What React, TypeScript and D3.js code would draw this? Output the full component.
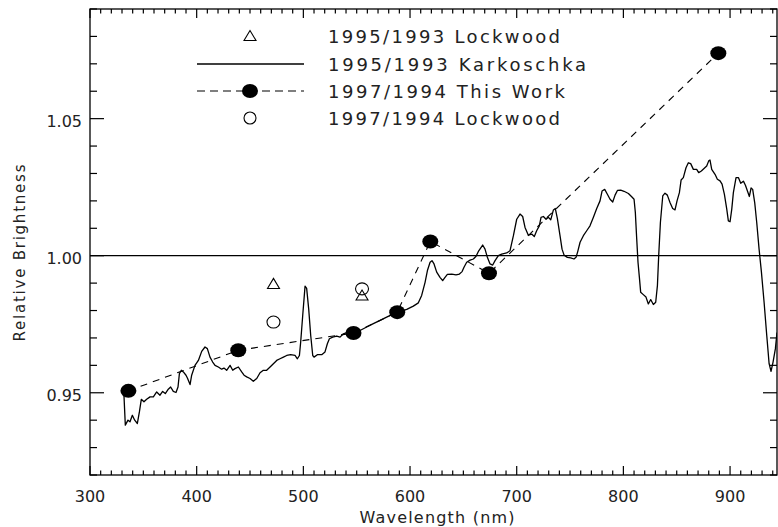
import React, { useRef, useEffect } from 'react';
import * as d3 from 'd3';

// Karkoschka 1995/1993 spectrum ratio
const karkWl = [
  331.5, 331.9, 333.1, 335.6, 337.5, 339.7, 341.9, 344.4, 346.3, 348.1, 350.6, 353.1, 356.3, 359.4,
  362.5, 365.6, 368.1, 370.6, 373.4, 375.6, 378.1, 380.6, 382.5, 383.8, 385.6, 387.5, 390.0, 391.3,
  393.8, 395.3, 398.4, 401.6, 404.7, 407.8, 410.0, 412.5, 415.0, 417.2, 420.3, 423.4, 425.6, 428.1,
  431.3, 433.8, 435.9, 439.1, 442.2, 444.4, 446.9, 450.0, 453.1, 456.3, 459.4, 462.5, 465.6, 468.8,
  471.9, 475.0, 478.1, 481.3, 484.4, 488.1, 492.2, 494.4, 496.3, 497.5, 499.4, 501.6, 503.1, 505.0,
  506.9, 508.8, 510.0, 513.1, 517.2, 520.3, 522.5, 524.4, 527.5, 531.3, 534.4, 537.5, 540.6, 546.9,
  553.1, 559.4, 565.6, 571.9, 578.1, 584.4, 590.6, 596.9, 603.1, 607.8, 610.9, 614.1, 616.3, 618.8,
  620.6, 622.5, 625.0, 628.1, 630.6, 632.8, 635.0, 639.1, 643.1, 646.3, 648.8, 650.6, 653.1, 656.3,
  659.4, 661.9, 664.4, 668.1, 670.3, 672.5, 675.0, 677.5, 679.7, 682.8, 685.9, 690.6, 693.7, 696.9,
  700.0, 703.1, 705.6, 707.8, 710.9, 714.0, 716.5, 718.7, 721.2, 722.8, 725.0, 727.5, 729.7, 731.9,
  734.4, 736.2, 738.1, 740.6, 742.5, 744.4, 747.5, 750.6, 753.7, 755.6, 757.2, 759.4, 762.5, 765.6,
  768.7, 771.9, 775.0, 778.1, 780.0, 782.5, 785.0, 787.5, 790.0, 792.2, 794.4, 797.5, 800.6, 804.7,
  807.8, 810.0, 811.2, 812.5, 813.7, 815.0, 816.2, 818.7, 821.2, 823.4, 825.6, 828.1, 830.3, 831.9,
  833.1, 834.7, 836.9, 839.0, 841.2, 843.7, 846.2, 848.4, 850.3, 852.5, 854.1, 856.2, 858.7, 860.9,
  863.1, 865.6, 868.7, 870.6, 873.1, 875.6, 878.1, 880.0, 881.2, 882.8, 885.9, 888.1, 890.6, 892.5,
  894.7, 896.9, 898.4, 900.0, 901.6, 903.1, 905.6, 907.8, 910.0, 912.5, 914.4, 916.2, 918.1, 919.7,
  921.2, 923.1, 925.0, 927.2, 929.4, 931.9, 934.4, 936.6, 938.4, 940.3, 942.5, 944.0
];
const karkVal = [
  0.9500, 0.9485, 0.9382, 0.9400, 0.9394, 0.9418, 0.9400, 0.9388, 0.9430, 0.9476, 0.9467, 0.9476, 0.9485, 0.9485,
  0.9503, 0.9491, 0.9505, 0.9497, 0.9513, 0.9521, 0.9505, 0.9501, 0.9521, 0.9570, 0.9582, 0.9576, 0.9564, 0.9554,
  0.9530, 0.9564, 0.9600, 0.9618, 0.9651, 0.9667, 0.9661, 0.9630, 0.9612, 0.9600, 0.9594, 0.9586, 0.9590, 0.9582,
  0.9600, 0.9582, 0.9588, 0.9594, 0.9576, 0.9564, 0.9558, 0.9552, 0.9542, 0.9552, 0.9573, 0.9582, 0.9582, 0.9594,
  0.9606, 0.9618, 0.9624, 0.9630, 0.9636, 0.9639, 0.9636, 0.9624, 0.9636, 0.9685, 0.9782, 0.9889, 0.9881, 0.9806,
  0.9709, 0.9636, 0.9630, 0.9639, 0.9639, 0.9649, 0.9679, 0.9697, 0.9703, 0.9707, 0.9703, 0.9715, 0.9719, 0.9721,
  0.9727, 0.9740, 0.9752, 0.9764, 0.9776, 0.9788, 0.9796, 0.9804, 0.9816, 0.9828, 0.9855, 0.9903, 0.9946, 0.9976,
  0.9982, 0.9970, 0.9940, 0.9921, 0.9909, 0.9921, 0.9932, 0.9933, 0.9930, 0.9933, 0.9942, 0.9958, 0.9976, 0.9984,
  0.9988, 0.9998, 1.0018, 1.0039, 1.0024, 0.9994, 0.9970, 0.9966, 0.9982, 1.0000, 1.0006, 1.0010, 1.0018, 1.0073,
  1.0133, 1.0152, 1.0143, 1.0103, 1.0075, 1.0079, 1.0070, 1.0091, 1.0109, 1.0140, 1.0143, 1.0133, 1.0140, 1.0131,
  1.0167, 1.0172, 1.0136, 1.0073, 1.0024, 1.0002, 0.9994, 0.9992, 0.9988, 0.9994, 1.0015, 1.0049, 1.0073, 1.0091,
  1.0109, 1.0140, 1.0172, 1.0200, 1.0236, 1.0242, 1.0224, 1.0206, 1.0196, 1.0221, 1.0238, 1.0239, 1.0235, 1.0227,
  1.0215, 1.0206, 1.0158, 1.0061, 0.9976, 0.9921, 0.9867, 0.9858, 0.9849, 0.9824, 0.9840, 0.9822, 0.9830, 0.9891,
  1.0000, 1.0121, 1.0218, 1.0228, 1.0221, 1.0194, 1.0172, 1.0167, 1.0200, 1.0230, 1.0276, 1.0285, 1.0321, 1.0339,
  1.0336, 1.0315, 1.0315, 1.0303, 1.0309, 1.0318, 1.0327, 1.0346, 1.0349, 1.0315, 1.0297, 1.0279, 1.0273, 1.0261,
  1.0224, 1.0170, 1.0127, 1.0124, 1.0170, 1.0230, 1.0285, 1.0285, 1.0264, 1.0272, 1.0257, 1.0237, 1.0216, 1.0247,
  1.0242, 1.0194, 1.0121, 1.0024, 0.9940, 0.9830, 0.9709, 0.9606, 0.9578, 0.9612, 0.9661, 0.9720
];

// 1997/1994 This Work
const thisWorkWl = [336, 439, 547, 588, 619, 674, 889];
const thisWorkVal = [0.9507, 0.9655, 0.9718, 0.9794, 1.0052, 0.9936, 1.0739];

// Lockwood ratios
const lock97Wl = [472, 555];
const lock97Val = [0.9758, 0.9879];
const lock95Wl = [472, 555];
const lock95Val = [0.9897, 0.9855];

const xMajor = [300, 400, 500, 600, 700, 800, 900];
const yMajor = [0.95, 1.00, 1.05];
const yLabels = ['0.95', '1.00', '1.05'];

const legendLabels = [
  '1995/1993 Lockwood',
  '1995/1993 Karkoschka',
  '1997/1994 This Work',
  '1997/1994 Lockwood'
];

const FONT = "'DejaVu Sans', sans-serif";

export default function App() {
  const ref = useRef<SVGSVGElement>(null);

  useEffect(() => {
    const left = 90, right = 777, top = 9, bottom = 475;
    const x = d3.scaleLinear().domain([300, 944]).range([left, right]);
    const y = d3.scaleLinear().domain([0.92, 1.09]).range([bottom, top]);

    const svg = d3.select(ref.current);
    svg.selectAll('*').remove();
    svg.append('rect').attr('width', 778).attr('height', 527).attr('fill', '#fff');

    svg.append('clipPath').attr('id', 'plotClip')
      .append('rect').attr('x', left).attr('y', top)
      .attr('width', right - left).attr('height', bottom - top);

    // ticks, IDL style on all four sides
    const xMinor = d3.range(300, 941, 10);
    const yMinor = d3.range(0.92, 1.0901, 0.01);
    const tk = svg.append('g').attr('stroke', '#000').attr('stroke-width', 1.2);
    xMinor.forEach(v => {
      const major = xMajor.some(m => Math.abs(m - v) < 0.01);
      const len = major ? 9 : 4.5;
      tk.append('line').attr('x1', x(v)).attr('x2', x(v)).attr('y1', bottom).attr('y2', bottom - len);
      tk.append('line').attr('x1', x(v)).attr('x2', x(v)).attr('y1', top).attr('y2', top + len);
    });
    yMinor.forEach(v => {
      const major = yMajor.some(m => Math.abs(m - v) < 0.001);
      const len = major ? 14 : 7;
      tk.append('line').attr('x1', left).attr('x2', left + len).attr('y1', y(v)).attr('y2', y(v));
      tk.append('line').attr('x1', right).attr('x2', right - len).attr('y1', y(v)).attr('y2', y(v));
    });

    svg.append('rect').attr('x', left).attr('y', top)
      .attr('width', right - left).attr('height', bottom - top)
      .attr('fill', 'none').attr('stroke', '#000').attr('stroke-width', 1.3);

    // tick labels
    const lab = svg.append('g').attr('font-family', FONT).attr('font-size', 16).attr('fill', '#222');
    xMajor.forEach(v => {
      lab.append('text').attr('x', x(v)).attr('y', 502).attr('text-anchor', 'middle').text(String(v));
    });
    yMajor.forEach((v, i) => {
      lab.append('text').attr('x', 82).attr('y', y(v) + 8).attr('text-anchor', 'end').text(yLabels[i]);
    });
    lab.append('text').attr('x', 437).attr('y', 523).attr('text-anchor', 'middle')
      .attr('textLength', 155).attr('lengthAdjust', 'spacing').text('Wavelength (nm)');
    lab.append('text').attr('transform', 'translate(25,253) rotate(-90)').attr('text-anchor', 'middle')
      .attr('font-size', 15).attr('textLength', 177).attr('lengthAdjust', 'spacing').text('Relative Brightness');

    // reference line at 1.00
    svg.append('line').attr('x1', left).attr('x2', right).attr('y1', y(1)).attr('y2', y(1))
      .attr('stroke', '#000').attr('stroke-width', 1.2);

    const plot = svg.append('g').attr('clip-path', 'url(#plotClip)');

    const spec = karkWl.map((w, i) => [w, karkVal[i]] as [number, number]);
    const line = d3.line<[number, number]>().x(d => x(d[0])).y(d => y(d[1]));
    plot.append('path').datum(spec).attr('d', line)
      .attr('fill', 'none').attr('stroke', '#000').attr('stroke-width', 1.3).attr('stroke-linejoin', 'round');

    const tw = thisWorkWl.map((w, i) => [w, thisWorkVal[i]] as [number, number]);
    plot.append('path').datum(tw).attr('d', line)
      .attr('fill', 'none').attr('stroke', '#000').attr('stroke-width', 1.1).attr('stroke-dasharray', '7,6');
    tw.forEach(d => {
      plot.append('ellipse').attr('cx', x(d[0])).attr('cy', y(d[1])).attr('rx', 8).attr('ry', 7).attr('fill', '#000');
    });

    const tri = (cx: number, cy: number) =>
      `M${cx - 6},${cy + 4.5}L${cx},${cy - 5.5}L${cx + 6},${cy + 4.5}Z`;
    lock95Wl.forEach((w, i) => {
      plot.append('path').attr('d', tri(x(w), y(lock95Val[i])))
        .attr('fill', 'none').attr('stroke', '#000').attr('stroke-width', 1.1);
    });
    lock97Wl.forEach((w, i) => {
      plot.append('ellipse').attr('cx', x(w)).attr('cy', y(lock97Val[i])).attr('rx', 6.5).attr('ry', 6)
        .attr('fill', 'none').attr('stroke', '#000').attr('stroke-width', 1.1);
    });

    // legend
    const rows = [36, 64, 91, 118];
    const lx1 = 197, lx2 = 304, lmid = 250;
    const lg = svg.append('g');
    lg.append('path').attr('d', tri(lmid, rows[0])).attr('fill', 'none').attr('stroke', '#000').attr('stroke-width', 1.1);
    lg.append('line').attr('x1', lx1).attr('x2', lx2).attr('y1', rows[1]).attr('y2', rows[1])
      .attr('stroke', '#000').attr('stroke-width', 1.3);
    lg.append('line').attr('x1', lx1).attr('x2', lx2).attr('y1', rows[2]).attr('y2', rows[2])
      .attr('stroke', '#000').attr('stroke-width', 1.1).attr('stroke-dasharray', '8,5');
    lg.append('ellipse').attr('cx', lmid).attr('cy', rows[2]).attr('rx', 8).attr('ry', 7).attr('fill', '#000');
    lg.append('ellipse').attr('cx', lmid).attr('cy', rows[3]).attr('rx', 6).attr('ry', 6)
      .attr('fill', 'none').attr('stroke', '#000').attr('stroke-width', 1.1);

    const lens = [232, 258, 237, 232];
    legendLabels.forEach((t, i) => {
      lg.append('text').attr('x', 328).attr('y', rows[i] + 7).attr('font-family', FONT).attr('font-size', 18)
        .attr('fill', '#222').attr('textLength', lens[i]).attr('lengthAdjust', 'spacing').text(t);
    });
  }, []);

  return (
    <div>
      <svg ref={ref} width={778} height={527} style={{ position: 'absolute', left: 0, top: 0 }} />
    </div>
  );
}
